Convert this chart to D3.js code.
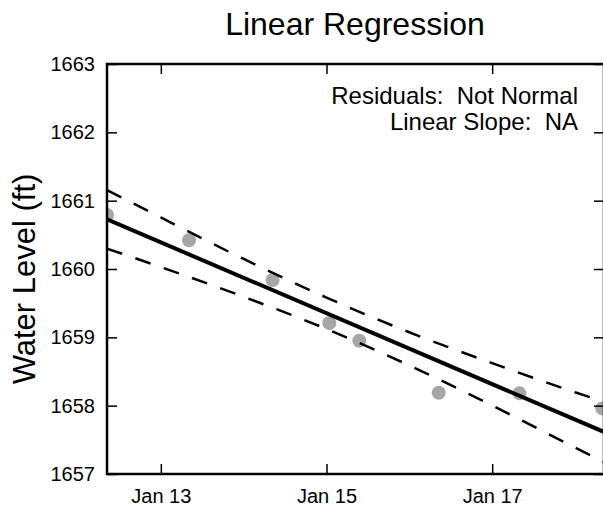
<!DOCTYPE html>
<html>
<head>
<meta charset="utf-8">
<script src="https://cdn.jsdelivr.net/npm/d3@7"></script>
<style>
  html, body { margin: 0; padding: 0; background: #fff; }
  svg { display: block; font-family: "Liberation Sans", Arial, sans-serif; }
  text { white-space: pre; }
</style>
</head>
<body>
<svg id="chart" width="603" height="508"></svg>
<script>
// ---- data ----
const obsDates  = ["2019-01-12T08:24", "2019-01-13T08:10", "2019-01-14T08:22", "2019-01-15T00:49",
                   "2019-01-15T09:30", "2019-01-16T08:31", "2019-01-17T07:55", "2019-01-18T07:54"];
const obsLevels = [1660.79, 1660.42, 1659.84, 1659.21, 1658.95, 1658.19, 1658.18, 1657.96];

const fitDates  = ["2019-01-12T08:24", "2019-01-18T08:24"];
const fitLevels = [1660.727, 1657.616];

const bandDates = ["2019-01-12T08:24", "2019-01-13T00:00", "2019-01-14T00:00", "2019-01-15T00:00",
                   "2019-01-16T00:00", "2019-01-17T00:00", "2019-01-18T00:00", "2019-01-18T08:24"];
const bandUpper = [1661.156, 1660.754, 1660.147, 1659.582, 1659.074, 1658.622, 1658.197, 1658.057];
const bandLower = [1660.298, 1660.028, 1659.593, 1659.122, 1658.588, 1658.002, 1657.387, 1657.175];

const xDomain   = ["2019-01-12T08:24", "2019-01-18T08:24"];
const xTicks    = ["2019-01-13T00:00", "2019-01-15T00:00", "2019-01-17T00:00"];
const yDomain   = [1657, 1663];
const yTicks    = [1657, 1658, 1659, 1660, 1661, 1662, 1663];

const titleText = "Linear Regression";
const yLabel    = "Water Level (ft)";
const notes     = ["Residuals:  Not Normal", "Linear Slope:  NA"];

// ---- layout ----
const parse = d3.timeParse("%Y-%m-%dT%H:%M");
const L = 107, R = 604, T = 64, B = 474;

const svg = d3.select("#chart");
const x = d3.scaleTime().domain(xDomain.map(parse)).range([L, R]);
const y = d3.scaleLinear().domain(yDomain).range([B, T]);

svg.append("defs").append("clipPath").attr("id", "clip")
  .append("rect").attr("x", L).attr("y", T).attr("width", R - L).attr("height", B - T);

const plot = svg.append("g").attr("clip-path", "url(#clip)");

// points
plot.selectAll("circle.obs").data(obsDates.map((d, i) => ({d: parse(d), v: obsLevels[i]})))
  .join("circle").attr("class", "obs")
  .attr("cx", p => x(p.d)).attr("cy", p => y(p.v)).attr("r", 7)
  .attr("fill", "#a6a6a6");

// bands
const bandLine = d3.line().x(p => x(p.d)).y(p => y(p.v)).curve(d3.curveMonotoneX);
[bandUpper, bandLower].forEach(arr => {
  plot.append("path")
    .datum(bandDates.map((d, i) => ({d: parse(d), v: arr[i]})))
    .attr("d", bandLine)
    .attr("fill", "none").attr("stroke", "#000").attr("stroke-width", 2.5)
    .attr("stroke-dasharray", "16,14");
});

// fit
plot.append("path")
  .datum(fitDates.map((d, i) => ({d: parse(d), v: fitLevels[i]})))
  .attr("d", d3.line().x(p => x(p.d)).y(p => y(p.v)))
  .attr("fill", "none").attr("stroke", "#000").attr("stroke-width", 4);

// axes
const fmt = d3.timeFormat("%b %d");
const tickStyle = g => {
  g.select(".domain").remove();
  g.selectAll(".tick line").attr("stroke", "#000").attr("stroke-width", 1.5);
  g.selectAll(".tick text").attr("fill", "#000").style("font-size", "20px")
    .style("font-family", "'Liberation Sans', Arial, sans-serif");
};
svg.append("g").attr("transform", `translate(0,${B})`)
  .call(d3.axisBottom(x).tickValues(xTicks.map(parse)).tickFormat(fmt).tickSizeInner(-10).tickPadding(15))
  .call(tickStyle);
svg.append("g").attr("transform", `translate(0,${T})`)
  .call(d3.axisTop(x).tickValues(xTicks.map(parse)).tickFormat("").tickSizeInner(-10))
  .call(tickStyle);
svg.append("g").attr("transform", `translate(${L},0)`)
  .call(d3.axisLeft(y).tickValues(yTicks).tickFormat(d3.format("d")).tickSizeInner(-10).tickPadding(12))
  .call(tickStyle);
svg.append("g").attr("transform", `translate(${R},0)`)
  .call(d3.axisRight(y).tickValues(yTicks).tickFormat("").tickSizeInner(-10))
  .call(tickStyle);

// frame
svg.append("rect").attr("x", L).attr("y", T).attr("width", R - L).attr("height", B - T)
  .attr("fill", "none").attr("stroke", "#000").attr("stroke-width", 2.5);

// title
svg.append("text").attr("x", 355).attr("y", 35).attr("text-anchor", "middle")
  .style("font-size", "32px").attr("fill", "#000").text(titleText);

// y label
svg.append("text").attr("transform", `translate(35,${(T + B) / 2 + 10}) rotate(-90)`)
  .attr("text-anchor", "middle").style("font-size", "31px").attr("fill", "#000").text(yLabel);

// notes
svg.selectAll("text.note").data(notes).join("text").attr("class", "note")
  .attr("x", 578).attr("y", (d, i) => 104 + i * 26).attr("text-anchor", "end")
  .style("font-size", "24px").attr("fill", "#000").text(d => d);
</script>
</body>
</html>
